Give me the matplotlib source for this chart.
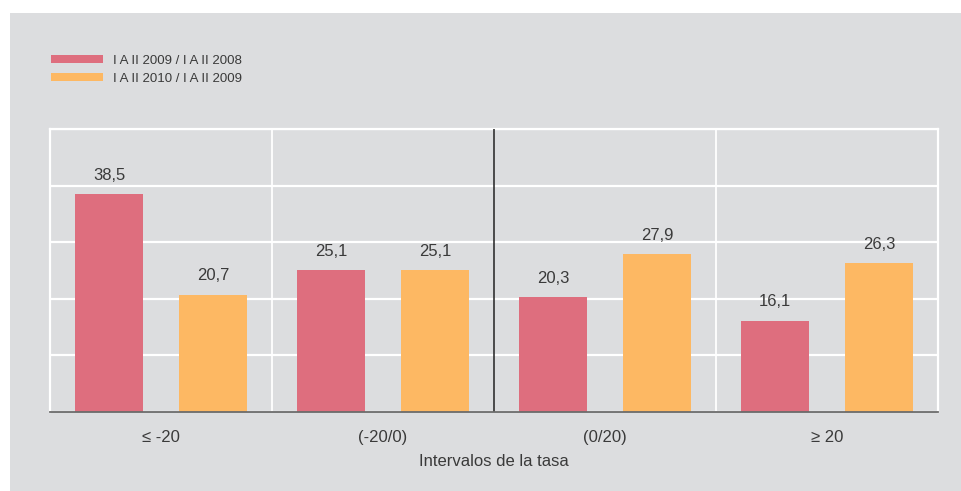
import matplotlib
matplotlib.use("Agg")
import matplotlib.pyplot as plt
from matplotlib.patches import Rectangle, Patch
import numpy as np

categories = ["≤ -20", "(-20/0)", "(0/20)", "≥ 20"]
series_names = ["I A II 2009 / I A II 2008", "I A II 2010 / I A II 2009"]
values_2009 = [38.5, 25.1, 20.3, 16.1]
values_2010 = [20.7, 25.1, 27.9, 26.3]
value_labels_2009 = ["38,5", "25,1", "20,3", "16,1"]
value_labels_2010 = ["20,7", "25,1", "27,9", "26,3"]
xlabel = "Intervalos de la tasa"

RED = "#DE6E7E"
ORANGE = "#FDB863"
BG = "#DCDDDF"
TXT = "#3a3a3a"

plt.rcParams['font.family'] = ['Liberation Sans', 'DejaVu Sans']

W, H = 961, 491
fig = plt.figure(figsize=(W / 100, H / 100), dpi=100)
fig.patch.set_facecolor("white")
fig.patches.append(Rectangle((10 / W, 0), 1 - 10 / W, 1 - 13 / H, transform=fig.transFigure,
                             facecolor=BG, edgecolor="none", zorder=-10))

ax = fig.add_axes([50 / W, (H - 411.5) / H, (938 - 50) / W, (411.5 - 129) / H])
ax.set_facecolor(BG)

x = np.arange(len(categories))
off = 0.234
bw = 0.31
ax.bar(x - off, values_2009, bw, color=RED, zorder=3, label=series_names[0])
ax.bar(x + off, values_2010, bw, color=ORANGE, zorder=3, label=series_names[1])

for xi, v, lab in zip(x - off, values_2009, value_labels_2009):
    ax.annotate(lab, (xi, v), xytext=(0, 8), textcoords="offset points",
                ha="center", va="bottom", fontsize=12, color=TXT)
for xi, v, lab in zip(x + off, values_2010, value_labels_2010):
    ax.annotate(lab, (xi, v), xytext=(0, 8), textcoords="offset points",
                ha="center", va="bottom", fontsize=12, color=TXT)

ax.set_xlim(-0.5, len(categories) - 0.5)
ax.set_ylim(0, 50)
ax.set_yticks(np.arange(0, 51, 10))
ax.yaxis.grid(True, color="white", linewidth=1.6, zorder=1)
ax.tick_params(axis="y", left=False, labelleft=False)
ax.set_xticks(x)
ax.set_xticklabels(categories, fontsize=12, color=TXT)
ax.tick_params(axis="x", length=0, pad=13)
ax.set_xlabel(xlabel, fontsize=12, color=TXT, labelpad=7)

for b in [0.5, 2.5]:
    ax.axvline(b, color="white", linewidth=1.3, zorder=2)
ax.axvline(1.5, color="#222222", linewidth=1.1, zorder=4)

for s in ["top", "left", "right"]:
    ax.spines[s].set_color("white")
    ax.spines[s].set_linewidth(1.6)
ax.spines["bottom"].set_color("#6b6b6b")
ax.spines["bottom"].set_linewidth(1.3)
ax.spines["bottom"].set_zorder(5)

handles = [Patch(facecolor=RED), Patch(facecolor=ORANGE)]
fig.legend(handles, series_names, loc="upper left", bbox_to_anchor=(51 / W, 1 - 55 / H),
           frameon=False, fontsize=9.5, handlelength=3.95, handleheight=0.55,
           handletextpad=0.75, labelspacing=0.45, labelcolor=TXT, borderaxespad=0,
           borderpad=0)

fig.savefig("out.png", dpi=100, facecolor=fig.get_facecolor())
